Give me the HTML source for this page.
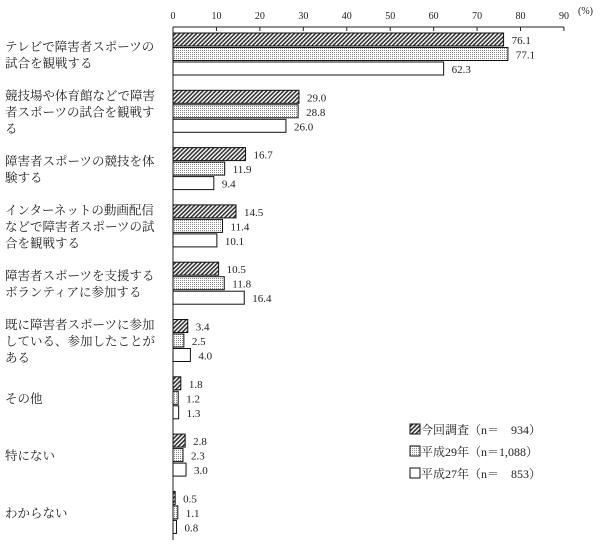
<!DOCTYPE html>
<html><head><meta charset="utf-8"><style>
body{margin:0;background:#fff}
svg text{font-family:"Liberation Serif","Noto Serif CJK JP",serif;fill:#222}
</style></head><body>
<svg width="600" height="540">
<defs>
<pattern id="hatch" width="3" height="3" patternUnits="userSpaceOnUse" patternTransform="rotate(45)">
<rect width="3" height="3" fill="#fff"/><rect width="1.6" height="3" fill="#333"/></pattern>
<pattern id="dots" width="2" height="2" patternUnits="userSpaceOnUse">
<rect width="2" height="2" fill="#fff"/><rect width="1" height="1" fill="#888"/></pattern>
</defs>
<g id="axis"></g><g id="bars"></g><g id="labels"></g><g id="legend"></g>
</svg>
<script>
const categories=[["テレビで障害者スポーツの","試合を観戦する"],["競技場や体育館などで障害","者スポーツの試合を観戦す","る"],["障害者スポーツの競技を体","験する"],["インターネットの動画配信","などで障害者スポーツの試","合を観戦する"],["障害者スポーツを支援する","ボランティアに参加する"],["既に障害者スポーツに参加","している、参加したことが","ある"],["その他"],["特にない"],["わからない"]];
const s2024=[76.1,29.0,16.7,14.5,10.5,3.4,1.8,2.8,0.5];
const sH29=[77.1,28.8,11.9,11.4,11.8,2.5,1.2,2.3,1.1];
const sH27=[62.3,26.0,9.4,10.1,16.4,4.0,1.3,3.0,0.8];
const ticks=[0,10,20,30,40,50,60,70,80,90];
const seriesNames=["今回調査（n＝　934）","平成29年（n＝1,088）","平成27年（n＝　853）"];
const NS="http://www.w3.org/2000/svg";
const x0=173,sc=4.344;
const xs=v=>x0+v*sc;
const gTop=i=>33+i*57.3;
function mk(tag,attrs,parent,txt){const e=document.createElementNS(NS,tag);for(const k in attrs)e.setAttribute(k,attrs[k]);if(txt!=null)e.textContent=txt;parent.appendChild(e);return e;}
const ax=document.getElementById('axis');
const axl=mk('line',{x1:x0,y1:27,x2:xs(90),y2:27,stroke:'#222','stroke-width':1},ax);


const ayl=mk('line',{x1:x0,y1:27,x2:x0,y2:540,stroke:'#222','stroke-width':1},ax);


ticks.forEach(t=>{
 const tl=mk('line',{x1:xs(t),y1:27,x2:xs(t),y2:31,stroke:'#222'},ax);
 
 
 const tx=mk('text',{x:xs(t),y:19,'font-size':10,'text-anchor':'middle'},ax,String(t));
 
 
});
const unit=mk('text',{x:578,y:14,'font-size':10},ax,'(%)');


const fills=['url(#hatch)','url(#dots)','#fff'];
const series=[s2024,sH29,sH27];
const bg=document.getElementById('bars'),lg=document.getElementById('labels');
categories.forEach((c,i)=>{
 series.forEach((s,j)=>{
  const y=gTop(i)+j*14.5;
  const r=mk('rect',{x:x0,y:y,width:s[i]*sc,height:13,fill:fills[j],stroke:'#111','stroke-width':1},bg);
  
  
  const v=mk('text',{x:xs(s[i])+8,y:y+11,'font-size':11},bg,s[i].toFixed(1));
  
  
 });
 const cy=gTop(i)+21,n=c.length;
 c.forEach((line,k)=>{
  const t=mk('text',{x:5,y:cy+(k-(n-1)/2)*16.5+5,'font-size':12.5},lg,line);
  
  
 });
});
const lgd=document.getElementById('legend');
seriesNames.forEach((nm,j)=>{
 const y=424+j*22;
 const b=mk('rect',{x:410,y:y,width:10,height:10,fill:fills[j],stroke:'#111'},lgd);
 
 
 const t=mk('text',{x:421,y:y+10,'font-size':12},lgd,nm);
 
 
});
</script>
</body></html>
